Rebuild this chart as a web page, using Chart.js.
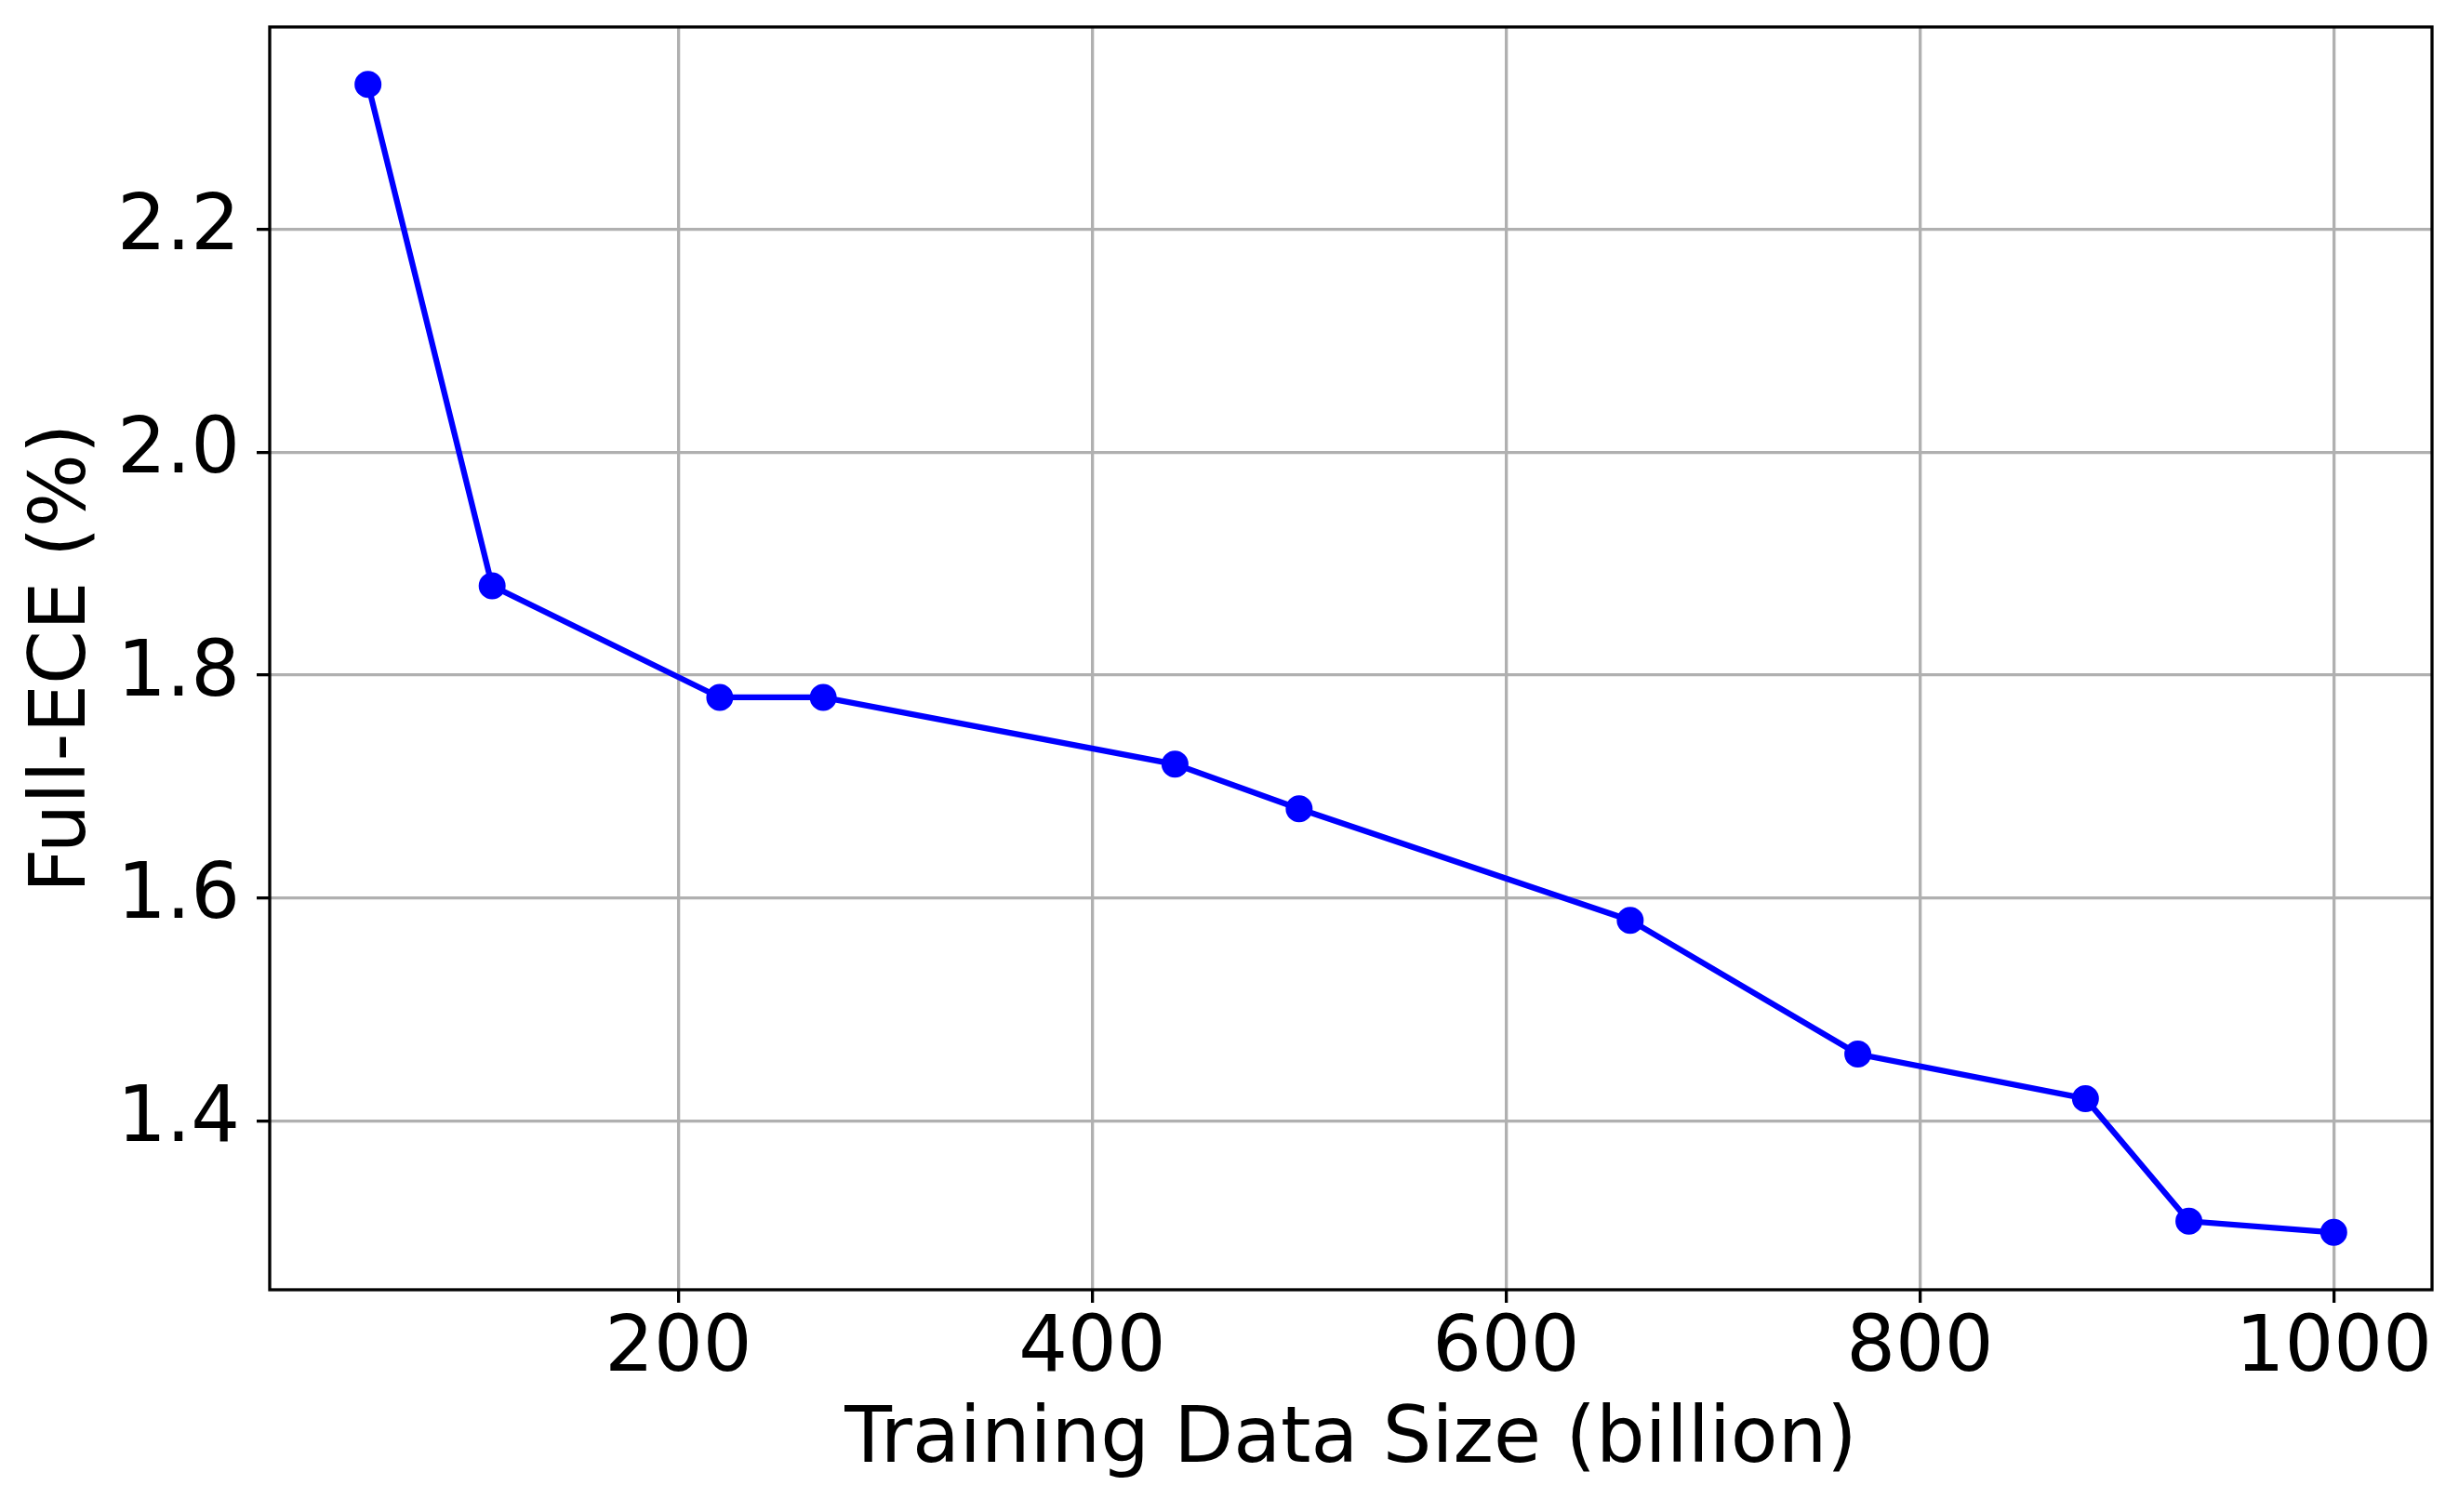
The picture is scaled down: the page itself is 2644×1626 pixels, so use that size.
<!DOCTYPE html>
<html>
<head>
<meta charset="utf-8">
<script src="https://cdn.jsdelivr.net/npm/chart.js@4.4.1/dist/chart.umd.min.js"></script>
<style>
  html, body { margin: 0; padding: 0; background: #fff; }
  canvas { display: block; }
</style>
</head>
<body>
<canvas id="eceChart" width="2644" height="1626"></canvas>
<script>
// data
const dataSizes = [50, 110, 220, 270, 440, 500, 660, 770, 880, 930, 1000];
const fullEce = [2.33, 1.88, 1.78, 1.78, 1.72, 1.68, 1.58, 1.46, 1.42, 1.31, 1.30];
const xTicks = [200, 400, 600, 800, 1000];
const yTicks = [1.4, 1.6, 1.8, 2.0, 2.2];

// matplotlib style 5% margins
function withMargin(values) {
    const lo = Math.min(...values);
    const hi = Math.max(...values);
    const m = (hi - lo) * 0.05;
    return [lo - m, hi + m];
}
const [xMin, xMax] = withMargin(dataSizes);
const [yMin, yMax] = withMargin(fullEce);

const FONT = { family: "'DejaVu Sans'", size: 83 };

// four black spines round the plot area
const frame = {
    id: 'frame',
    afterDatasetsDraw(chart) {
        const { ctx, chartArea: a } = chart;
        ctx.save();
        ctx.strokeStyle = '#000';
        ctx.lineWidth = 3.3;
        ctx.strokeRect(a.left, a.top, a.right - a.left, a.bottom - a.top);
        ctx.restore();
    }
};

const eceChart = new Chart('eceChart', {
    type: 'line',
    data: {
        datasets: [{
            data: dataSizes.map((x, i) => ({ x: x, y: fullEce[i] })),
            borderColor: '#0000ff',
            backgroundColor: '#0000ff',
            borderWidth: 6.25,
            pointRadius: 12.5,
            pointBorderWidth: 4,
            pointBackgroundColor: '#0000ff',
            pointBorderColor: '#0000ff',
            tension: 0,
            fill: false,
        }]
    },
    options: {
        responsive: false,
        animation: false,
        devicePixelRatio: 1,
        layout: { padding: { top: 29, right: 29, left: 0, bottom: 0 } },
        plugins: {
            legend: { display: false },
            tooltip: { enabled: false },
        },
        scales: {
            x: {
                type: 'linear',
                min: xMin,
                max: xMax,
                afterBuildTicks: (s) => { s.ticks = xTicks.map(v => ({ value: v })); },
                afterFit: (s) => {
                    s.height = 239;
                    s.paddingLeft = 0;
                    s.paddingRight = 0;
                },
                ticks: {
                    color: '#000',
                    font: FONT,
                    padding: 2,
                    autoSkip: false,
                    maxRotation: 0,
                    callback: (v) => String(v),
                },
                grid: {
                    color: '#b0b0b0',
                    lineWidth: 3.3,
                    tickLength: 14,
                    tickWidth: 3.3,
                    tickColor: '#000',
                },
                border: { display: false },
                title: {
                    display: true,
                    text: 'Training Data Size (billion)',
                    color: '#000',
                    font: FONT,
                    padding: { top: 0, bottom: 26 },
                },
            },
            y: {
                type: 'linear',
                min: yMin,
                max: yMax,
                afterBuildTicks: (s) => { s.ticks = yTicks.map(v => ({ value: v })); },
                afterFit: (s) => {
                    s.width = 290;
                    s.paddingTop = 0;
                    s.paddingBottom = 0;
                },
                ticks: {
                    color: '#000',
                    font: FONT,
                    padding: 18,
                    autoSkip: false,
                    callback: (v) => v.toFixed(1),
                },
                grid: {
                    color: '#b0b0b0',
                    lineWidth: 3.3,
                    tickLength: 14,
                    tickWidth: 3.3,
                    tickColor: '#000',
                },
                border: { display: false },
                title: {
                    display: true,
                    text: 'Full-ECE (%)',
                    color: '#000',
                    font: FONT,
                    padding: { top: 20, bottom: 0 },
                },
            }
        }
    },
    plugins: [frame]
});
</script>
</body>
</html>
